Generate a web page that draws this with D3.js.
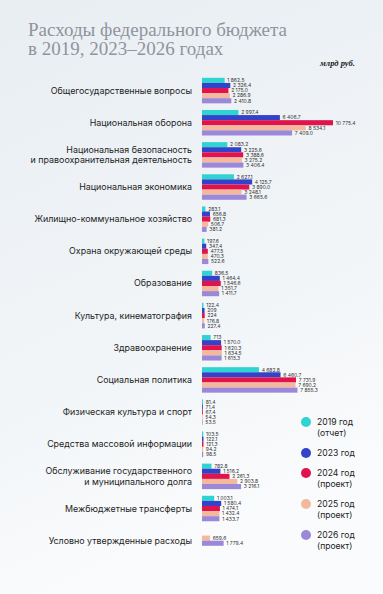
<!DOCTYPE html>
<html><head><meta charset="utf-8">
<script src="https://cdn.jsdelivr.net/npm/d3@7"></script>
<style>
html,body{margin:0;padding:0;}
body{width:383px;height:594px;overflow:hidden;}
</style></head>
<body>
<svg id="chart" width="383" height="594"></svg>
<script>
const categories = [
  ["Общегосударственные вопросы"],
  ["Национальная оборона"],
  ["Национальная безопасность", "и правоохранительная деятельность"],
  ["Национальная экономика"],
  ["Жилищно-коммунальное хозяйство"],
  ["Охрана окружающей среды"],
  ["Образование"],
  ["Культура, кинематография"],
  ["Здравоохранение"],
  ["Социальная политика"],
  ["Физическая культура и спорт"],
  ["Средства массовой информации"],
  ["Обслуживание государственного", "и муниципального долга"],
  ["Межбюджетные трансферты"],
  ["Условно утвержденные расходы"]
];
const s2019 = [1862.5, 2997.4, 2083.2, 2627.1, 283.1, 197.6, 836.5, 122.4, 713, 4682.8, 81.4, 103.5, 782.8, 1003.1, null];
const s2023 = [2326.4, 6406.7, 3225.6, 4125.7, 656.8, 347.4, 1464.4, 209, 1570.0, 6460.7, 71.4, 122.1, 1516.2, 1580.4, null];
const s2024 = [2175.0, 10775.4, 3388.6, 3890.0, 681.3, 477.5, 1546.6, 224, 1620.3, 7731.9, 67.4, 121.3, 2261.3, 1474.1, null];
const s2025 = [2286.9, 8534.1, 3275.2, 3248.1, 506.7, 470.3, 1351.7, 176.8, 1634.5, 7690.2, 54.3, 94.2, 2903.8, 1432.4, 659.6];
const s2026 = [2410.8, 7409.0, 3406.4, 3665.6, 381.2, 522.6, 1411.7, 227.4, 1615.3, 7855.3, 53.5, 98.5, 3216.1, 1433.7, 1779.4];
// values shown without decimals: [category index, series index]
const wholeLabels = [[7,1],[7,2],[8,0]];
const seriesNames = [["2019 год","(отчет)"],["2023 год"],["2024 год","(проект)"],["2025 год","(проект)"],["2026 год","(проект)"]];
const seriesColors = ["#2fd4d2", "#3342c9", "#e0134d", "#f4b99c", "#9b88d8"];
const titleLines = ["Расходы федерального бюджета", "в 2019, 2023–2026 годах"];
const unitLabel = "млрд руб.";

const series = [s2019, s2023, s2024, s2025, s2026];
const svg = d3.select("#chart");

// background
const defs = svg.append("defs");
const g1 = defs.append("linearGradient").attr("id","bg").attr("x1",0).attr("y1",0).attr("x2",0.3).attr("y2",1);
g1.append("stop").attr("offset","0%").attr("stop-color","#e9eef3");
g1.append("stop").attr("offset","55%").attr("stop-color","#f0f4f7");
g1.append("stop").attr("offset","100%").attr("stop-color","#fafbfc");
svg.append("rect").attr("width",383).attr("height",594).attr("fill","url(#bg)");

// title
svg.append("g").selectAll("text").data(titleLines).join("text")
  .attr("x", 28).attr("y", (d,i)=> 36 + i*19)
  .attr("font-family", "'Liberation Serif', 'DejaVu Serif', serif")
  .attr("font-size", 19).attr("fill", "#90949c")
  .text(d=>d);
svg.append("text").attr("x", 355).attr("y", 66).attr("text-anchor","end")
  .attr("font-family","'Liberation Serif', serif").attr("font-style","italic").attr("font-weight","bold")
  .attr("font-size", 8.5).attr("fill","#222").text(unitLabel);

const x = d3.scaleLinear().domain([0, 10775.4]).range([202, 333]);
const y = d3.scaleBand().domain(d3.range(categories.length)).range([74.5, 74.5 + 15*32.15]).paddingInner(0.2).paddingOuter(0.1);
const barH = 5.1;

const loc = d3.formatLocale({decimal:".", thousands:" ", grouping:[3], currency:["",""]});
const f1 = loc.format(",.1f"), f0 = loc.format(",.0f");
const isWhole = (c,s) => wholeLabels.some(w=>w[0]===c && w[1]===s);

const rows = [];
categories.forEach((cat, ci) => {
  const present = series.map((s,si)=>({si, v:s[ci]})).filter(d=>d.v!=null);
  const n = present.length;
  const center = y(ci) + y.bandwidth()/2;
  const inner = d3.scaleBand().domain(present.map(d=>d.si)).range([center - n*barH/2, center + n*barH/2]);
  present.forEach(d => rows.push({ci, si:d.si, v:d.v, y0: inner(d.si), h: inner.bandwidth()}));
});

const gb = svg.append("g");
gb.selectAll("rect").data(rows).join("rect")
  .attr("x", x(0)).attr("y", d=>d.y0).attr("width", d=>x(d.v)-x(0)).attr("height", d=>d.h)
  .attr("fill", d=>seriesColors[d.si]);
gb.selectAll("text").data(rows).join("text")
  .attr("x", d=>x(d.v)+2.7).attr("y", d=>d.y0 + d.h/2 + 1.8)
  .attr("font-family","Inter, 'Noto Sans', sans-serif").attr("font-size", 5).attr("fill","#333")
  .text(d=> isWhole(d.ci,d.si) ? f0(d.v) : f1(d.v));

// category labels
const gl = svg.append("g").attr("font-family","Inter, 'Noto Sans', sans-serif").attr("font-size",8.9).attr("fill","#1e1e1e");
categories.forEach((lines, ci) => {
  const cy = y(ci) + y.bandwidth()/2;
  const t = gl.append("text").attr("text-anchor","end");
  lines.forEach((ln, li) => {
    t.append("tspan").attr("x", 192).attr("y", cy + 3 + (li - (lines.length-1)/2)*10.4).text(ln);
  });
});

// legend
const legY = [422, 453, 473, 504, 535];
const lg = svg.append("g").attr("font-family","Inter, 'Noto Sans', sans-serif").attr("font-size",8.6).attr("fill","#222");
seriesNames.forEach((nm, i) => {
  lg.append("circle").attr("cx",306).attr("cy",legY[i]).attr("r",5).attr("fill",seriesColors[i]);
  const t = lg.append("text");
  nm.forEach((ln, li) => t.append("tspan").attr("x",317).attr("y", legY[i] + 3 + li*10.8).text(ln));
});
</script>
</body></html>
